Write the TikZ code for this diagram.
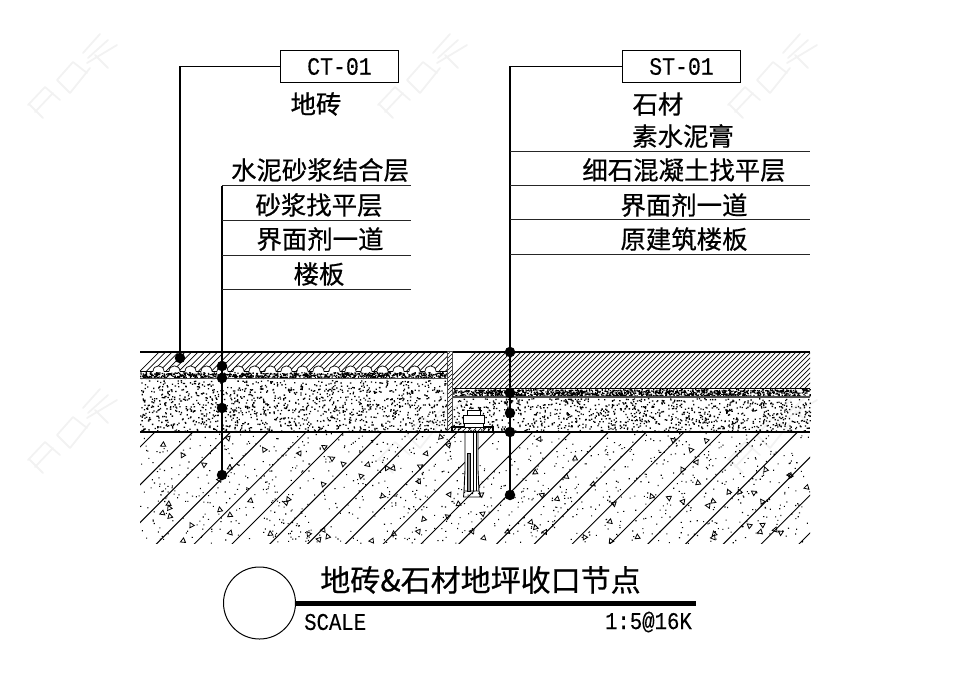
\documentclass[tikz,border=0pt]{standalone}
\usepackage{fontspec}
\setmainfont[FakeStretch=0.86,FakeBold=0.25]{Liberation Mono}
\newfontfamily\cjk[FakeBold=0.6]{Noto Sans CJK SC}
\usetikzlibrary{positioning}

\tikzset{
  tag/.style={draw, line width=1.1pt, minimum width=118pt, minimum height=32pt, inner sep=0pt, font=\fontsize{25}{25}\selectfont},
  layer/.style={inner sep=0pt, font=\cjk\fontsize{25.4}{25.4}\selectfont},
  heading/.style={inner sep=0pt, font=\cjk\fontsize{30}{30}\selectfont},
  note/.style={inner sep=0pt, font=\fontsize{24}{24}\selectfont},
  pin/.style={circle, fill=black, inner sep=0pt, minimum size=10.5pt},
  leader/.style={line width=1.1pt},
  shelf/.style={line width=1pt, black!85},
  outline/.style={line width=1.2pt},
  wmark/.pic={
    \draw[line width=1.8pt, black!5, line cap=round]
      (8,75) -- (25,57) (15,82) -- (33,63) (10,75) -- (23,88) (25,57) -- (40,70)
      (37,50) -- (53,32) (37,50) -- (50,63) (53,32) -- (67,43) (50,63) -- (70,38)
      (63,23) -- (80,4) (68,28) -- (88,10) (67,33) -- (97,15) (75,25) -- (88,38);
  }
}

% x0 y0 x1 y1 count size
\newcommand{\speckle}[6]{
  \fill foreach \i in {1,...,#5} {
    ({#1+rnd*(#3-#1)}, {#2+rnd*(#4-#2)}) rectangle ++(#6,#6)
  };
}

\begin{document}
\begin{tikzpicture}[x=1pt, y=-1pt]
  \useasboundingbox (0,0) rectangle (963,673);
  \pgfmathsetseed{4217}

  % Watermarks
  \foreach \x in {20,370,720}
    \foreach \y in {30,385}
      \pic at (\x,\y) {wmark};

  % Concrete slab
  \begin{scope}
    \clip (140,432) rectangle (810,543);
    \foreach \x in {155,192.8,...,1000}
      \draw[line width=1pt] (\x,432) -- ++(-130,130);
    \speckle{140}{433}{810}{543}{1050}{1.1}
    \foreach \i in {1,...,95}
      \draw[line width=0.8pt, shift={({140+rnd*670},{436+rnd*105})}, rotate={rnd*120}]
        (0,-2.5) -- (2.5,2) -- (-2.5,2) -- cycle;
  \end{scope}

  % Screed under the two floors
  \speckle{140}{380}{446}{431}{1250}{1.3}
  \speckle{453}{398}{810}{431}{1050}{1.3}

  % Setting beds
  \speckle{140}{372}{446}{378}{1000}{1.2}
  \speckle{453}{389}{810}{396}{1400}{1.2}
  \draw[outline] (140,371.5) -- (447,371.5);
  \draw[line width=1.6pt, black!70] (140,378.5) -- (447,378.5);
  \draw[line width=1.6pt] (452,388.5) -- (810,388.5);
  \draw[line width=1.6pt, black!70] (452,397) -- (810,397);

  % Tile and stone hatching
  \begin{scope}
    \clip (140,352) rectangle (447,371);
    \foreach \x in {140,146.5,...,480}
      \draw[line width=0.7pt] (\x,371) -- ++(19,-19);
    \foreach \x in {153,169,...,430}
      \draw[line width=0.7pt, fill=white] (\x,371.5) .. controls (\x,364) and (\x+11,364) .. (\x+11,371.5);
  \end{scope}
  \begin{scope}
    \clip (452,352) rectangle (810,388);
    \foreach \x in {440,445,...,810}
      \draw[line width=0.7pt] (\x,388) -- ++(36,-36);
  \end{scope}
  \draw[outline] (140,352) -- (447,352);
  \draw[outline] (452,352) -- (810,352);

  % Metal trim
  \begin{scope}
    \clip (447,351) rectangle (452,432);
    \foreach \y in {351,355,...,440}
      \draw[line width=0.6pt] (447,\y) -- ++(5,-5);
  \end{scope}
  \draw[line width=0.9pt, black!70] (447,351) rectangle (452,432);

  % Base plate and anchor
  \begin{scope}
    \clip (452,427) rectangle (493,432);
    \foreach \x in {452,457,...,500}
      \draw[line width=0.6pt] (\x,432) -- ++(5,-5);
  \end{scope}
  \draw[outline] (452,427) rectangle (493,432);
  \draw[line width=0.8pt, fill=white] (464,423) rectangle (483,427);
  \draw[line width=0.8pt, fill=white] (463,415) rectangle (484,423);
  \draw[line width=0.8pt, fill=white] (467,410) rectangle (480,415);
  \draw[line width=0.9pt, fill=white] (465,432) -- (465,470) -- (464,491) -- (479,491) -- (478,470) -- (478,432) -- cycle;
  \draw[line width=0.7pt, fill=black!45] (467,453) rectangle (470.5,491);
  \draw[line width=0.7pt] (473,432) -- (473,491) (476,432) -- (476,491);
  \draw[line width=0.8pt] (464,491) -- (463.5,497) -- (481,497) -- (479,491);

  % Base line
  \draw[outline] (140,432) -- (810,432);

  % Pins
  \node[pin] (tile)    at (180,358) {};
  \node[pin] (bed)     at (222,366) {};
  \node[pin] (screed)  at (222,378) {};
  \node[pin] (primer)  at (222,408) {};
  \node[pin] (slab)    at (222,475) {};
  \node[pin] (stone)   at (510,352) {};
  \node[pin] (paste)   at (510,393) {};
  \node[pin] (fine)    at (510,413) {};
  \node[pin] (agent)   at (510,432) {};
  \node[pin] (floor)   at (510,495) {};

  % Tags
  \node[tag] (ct) at (339.5,66.5) {CT-01};
  \node[tag] (st) at (681.5,66.5) {ST-01};
  \draw[leader] (ct.west) -| (tile);
  \draw[leader] (st.west) -| (floor);

  % Left labels
  \node[layer] (ctA) at (316,104) {地砖};
  \node[layer] (ctB) at (320,170) {水泥砂浆结合层};
  \node[layer] (ctC) at (319,205) {砂浆找平层};
  \node[layer] (ctD) at (320,239) {界面剂一道};
  \node[layer] (ctE) at (319,274) {楼板};

  % Right labels
  \node[layer] (stA) at (658,104) {石材};
  \node[layer] (stB) at (683,136) {素水泥膏};
  \node[layer] (stC) at (684,170) {细石混凝土找平层};
  \node[layer] (stD) at (684,205) {界面剂一道};
  \node[layer] (stE) at (684,239) {原建筑楼板};

  % Shelves
  \coordinate (lt) at (222,185.5);
  \draw[leader] (lt) -- (slab);
  \foreach \y in {185.5,220.5,255.5,289.5}
    \draw[shelf] (222,\y) -- (411,\y);
  \foreach \y in {151.5,185.5,219.5,254.5}
    \draw[shelf] (510,\y) -- (810,\y);

  % Title block
  \node[draw, circle, line width=1pt, minimum size=72pt, inner sep=0pt] (ring) at (259.5,603) {};
  \coordinate (barend) at (696,603);
  \draw[line width=5pt] (ring.east) -- (barend);
  \node[heading] (title) at (480.5,580) {地砖\&石材地坪收口节点};
  \node[note, anchor=west] (scale) at (304,622) {SCALE};
  \node[note, anchor=east] (ratio) at (692,622) {1:5@16K};
\end{tikzpicture}
\end{document}
